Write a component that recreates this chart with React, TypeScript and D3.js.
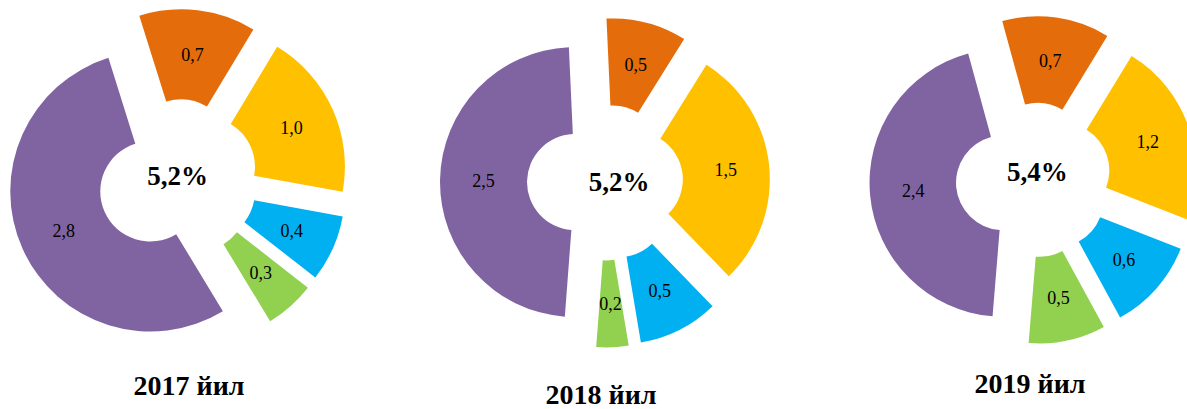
import React from 'react';
import * as d3 from 'd3';

// Segment categories (no legend shown in the reference)
const categories = ['Сегмент 1', 'Сегмент 2', 'Сегмент 3', 'Сегмент 4', 'Сегмент 5'];
const colors = ['#E46C0A', '#FFC000', '#00B0F0', '#92D050', '#8064A2'];

const years = ['2017 йил', '2018 йил', '2019 йил'];
const values2017 = [0.7, 1.0, 0.4, 0.3, 2.8];
const values2018 = [0.5, 1.5, 0.5, 0.2, 2.5];
const values2019 = [0.7, 1.2, 0.6, 0.5, 2.4];
const seriesValues = [values2017, values2018, values2019];

// layout (positions / sizes only)
const layouts = [
  { cx: 177.6, cy: 179.1, rIn: 50, rOut: 140, explode: 30, startDeg: 342.6, totalX: 177.5, totalY: 185, yearX: 189, yearY: 395 },
  { cx: 605, cy: 182.5, rIn: 48, rOut: 135, explode: 30, startDeg: 357.4, totalX: 619, totalY: 191, yearX: 601, yearY: 404 },
  { cx: 1033.4, cy: 180, rIn: 47.5, rOut: 134, explode: 30, startDeg: 344.7, totalX: 1037.3, totalY: 181, yearX: 1030, yearY: 393 },
];

const fmt = (v: number) => d3.format('.1f')(v).replace('.', ',');
const FONT = "'Liberation Serif', 'Times New Roman', serif";

type Datum = { cat: string; value: number; color: string };

function Donut({ values, layout, year }: { values: number[]; layout: typeof layouts[0]; year: string }) {
  const data: Datum[] = values.map((v, i) => ({ cat: categories[i], value: v, color: colors[i] }));
  const start = (layout.startDeg * Math.PI) / 180;
  const pie = d3
    .pie<Datum>()
    .sort(null)
    .value((d) => d.value)
    .startAngle(start)
    .endAngle(start + 2 * Math.PI);
  const arc = d3.arc<d3.PieArcDatum<Datum>>().innerRadius(layout.rIn).outerRadius(layout.rOut);
  const arcs = pie(data);
  const total = d3.sum(values);
  return (
    <g>
      <g transform={`translate(${layout.cx},${layout.cy})`}>
        {arcs.map((a, i) => {
          const mid = (a.startAngle + a.endAngle) / 2;
          const ox = layout.explode * Math.sin(mid);
          const oy = -layout.explode * Math.cos(mid);
          const [lx, ly] = arc.centroid(a);
          return (
            <g key={i} transform={`translate(${ox},${oy})`}>
              <path d={arc(a) || ''} fill={a.data.color} />
              <text
                x={lx}
                y={ly}
                dy="0.35em"
                textAnchor="middle"
                fontFamily={FONT}
                fontSize={18}
                fill="#000"
              >
                {fmt(a.data.value)}
              </text>
            </g>
          );
        })}
      </g>
      <text
        x={layout.totalX}
        y={layout.totalY}
        textAnchor="middle"
        fontFamily={FONT}
        fontWeight="bold"
        fontSize={27}
        fill="#000"
      >
        {fmt(total) + '%'}
      </text>
      <text
        x={layout.yearX}
        y={layout.yearY}
        textAnchor="middle"
        fontFamily={FONT}
        fontWeight="bold"
        fontSize={28}
        fill="#000"
      >
        {year}
      </text>
    </g>
  );
}

export default function App() {
  return (
    <div style={{ position: 'absolute', left: 0, top: 0, width: 1187, height: 409, background: '#fff' }}>
      <svg width={1187} height={409} style={{ display: 'block' }}>
        <rect width={1187} height={409} fill="#fff" />
        {seriesValues.map((vals, i) => (
          <Donut key={i} values={vals} layout={layouts[i]} year={years[i]} />
        ))}
      </svg>
    </div>
  );
}
